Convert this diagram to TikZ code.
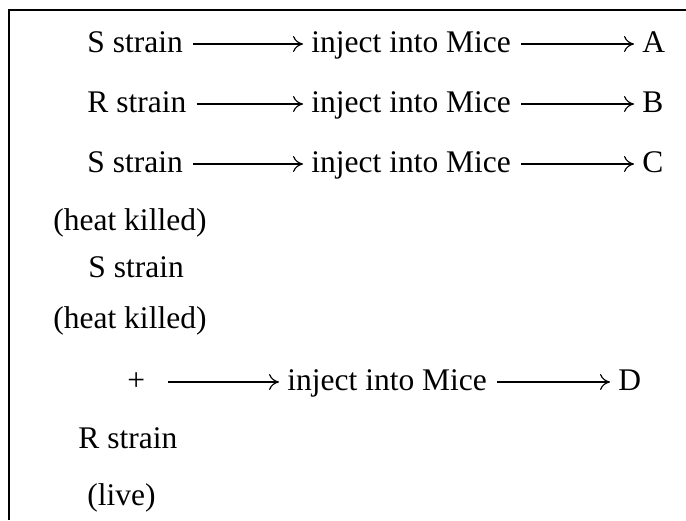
\documentclass[tikz,border=0pt]{standalone}
\usepackage{fontspec}
\setmainfont{Liberation Serif}
\usetikzlibrary{arrows.meta}

\begin{document}
\begin{tikzpicture}[x=0.5pt, y=-0.5pt,
    txt/.style={anchor=base west, inner sep=0pt, text height=12pt, text depth=4pt,
        font=\fontsize{15.75pt}{19pt}\selectfont},
    link/.style={-{To[length=5pt, width=8pt]}, line width=0.6pt, shorten <=5pt, shorten >=4pt}]
    \useasboundingbox (0, 0) rectangle (686, 520);
    \draw[line width=1pt] (686, 10) -- (9, 10) -- (9, 520);

    \foreach \y/\src/\res [count=\k] in {52/S/A, 112/R/B, 172/S/C} {
        \node[txt] (src\k) at (87, \y) {\src\ strain};
        \node[txt] (inj\k) at (311, \y) {inject into Mice};
        \node[txt] (res\k) at (642, \y) {\res};
        \draw[link] (src\k) -- (inj\k);
        \draw[link] (inj\k) -- (res\k);
    }

    \node[txt] (killed1) at (53, 230) {(heat killed)};
    \node[txt] (src4) at (88, 277) {S strain};
    \node[txt] (killed2) at (53, 328) {(heat killed)};
    \node[txt] (plus) at (127, 390) {+};
    \coordinate (start4) at (158, 382);
    \node[txt] (inj4) at (287, 390) {inject into Mice};
    \node[txt] (res4) at (618, 390) {D};
    \node[txt] (src5) at (78, 448) {R strain};
    \node[txt] (live) at (87, 505) {(live)};
    \draw[link] (start4) -- (inj4);
    \draw[link] (inj4) -- (res4);
\end{tikzpicture}
\end{document}
